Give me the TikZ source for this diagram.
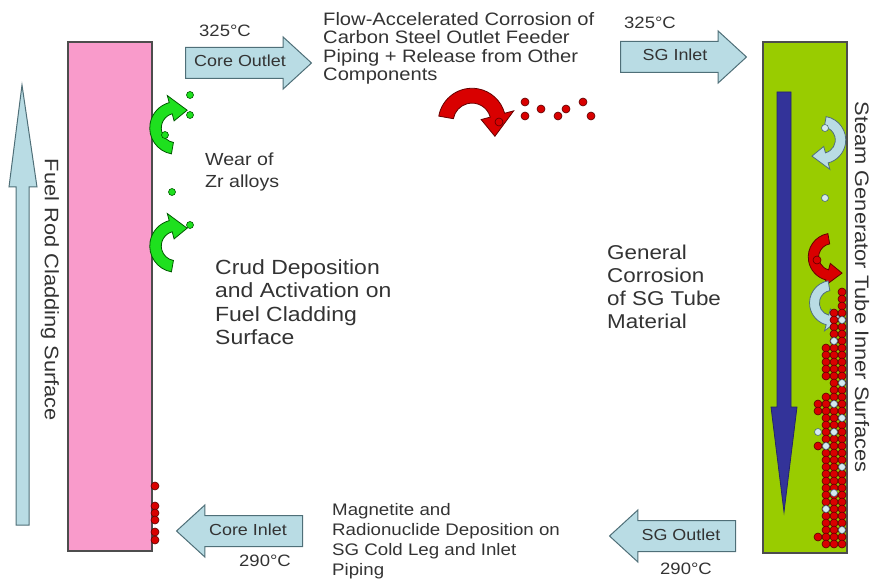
\documentclass[tikz,border=0pt]{standalone}
\usepackage{fontspec}
\setmainfont{Liberation Sans}[FakeStretch=1.12]
\usepackage{xcolor}
\usepackage{tikz}
\usetikzlibrary{shapes.arrows}

\definecolor{txtgray}{HTML}{333333}
\definecolor{edgegray}{HTML}{4D4D4D}
\definecolor{rodpink}{HTML}{F99BCB}
\definecolor{tubegreen}{HTML}{99CC00}
\definecolor{paleblue}{HTML}{B9DCE4}
\definecolor{paleedge}{HTML}{4F6F78}
\definecolor{flowblue}{HTML}{333399}
\definecolor{crudred}{HTML}{D90000}
\definecolor{zrgreen}{HTML}{1EE01E}

\tikzset{
  pics/bendarrow/.style={code={
    \path[pic actions] (100:1.25) arc[start angle=100, end angle=255, radius=1.25]
      -- (255:1.6) -- (302:1.0) -- (255:0.35) -- (255:0.7)
      arc[start angle=255, end angle=100, radius=0.7] -- cycle;
  }}
}

\begin{document}
\begin{tikzpicture}[x=1pt, y=-1pt, text=txtgray,
    blockarrow/.style={single arrow, draw=paleedge, fill=paleblue, line width=1pt,
      single arrow head extend=10.5pt, single arrow tip angle=85,
      minimum height=126pt, text height=11pt, text depth=3pt,
      inner ysep=8pt, inner xsep=4pt, font=\fontsize{16}{16}\selectfont},
    templbl/.style={font=\fontsize{16.5}{16.5}\selectfont},
    notes/.style={anchor=north west, align=left, inner sep=0pt},
    greenarr/.style={fill=zrgreen, draw=green!35!black, line width=0.8pt},
    redarr/.style={fill=crudred, draw=red!40!black, line width=0.8pt},
    bluearr/.style={fill=paleblue, draw=paleedge, line width=0.8pt},
    reddot/.style={fill=crudred, draw=red!35!black, line width=0.6pt},
    greendot/.style={fill=zrgreen, draw=green!35!black, line width=0.6pt},
    palebead/.style={fill=paleblue!60!white, draw=paleedge, line width=0.6pt}]

    \useasboundingbox (0,0) rectangle (876,583);

    % the two surfaces
    \draw[fill=rodpink, draw=edgegray, line width=1.2pt] (68,42) rectangle (152,551);
    \draw[fill=tubegreen, draw=edgegray, line width=1.2pt] (763,42) rectangle (847,553);

    % big flow arrows
    \draw[fill=paleblue, draw=paleedge, line width=1pt]
      (16,525) -- (16,187) -- (9,187) -- (22,85) -- (37,187) -- (29,187) -- (29,525) -- cycle;
    \draw[fill=flowblue, draw=flowblue!70!black, line width=0.8pt]
      (777,92) -- (791,92) -- (791,407) -- (797,407) -- (784,512) -- (771,407) -- (777,407) -- cycle;

    \node[rotate=-90, font=\fontsize{19.5}{19.5}\selectfont] (rodlbl) at (50,290) {Fuel Rod Cladding Surface};
    \node[rotate=-90, font=\fontsize{19.5}{19.5}\selectfont] (tubelbl) at (862,287) {Steam Generator Tube Inner Surfaces};

    % loop arrows
    \node[blockarrow, anchor=tail] (coreout) at (185,63) {Core Outlet};
    \node[blockarrow, anchor=tail] (sgin) at (620,57) {SG Inlet};
    \node[blockarrow, anchor=tail, shape border rotate=180] (corein) at (303,531) {Core Inlet};
    \node[blockarrow, anchor=tail, shape border rotate=180] (sgout) at (736,536) {SG Outlet};

    \node[templbl] (toutlet) at (225,31) {325°C};
    \node[templbl] (tsgin) at (650,23) {325°C};
    \node[templbl] (tinlet) at (265,561) {290°C};
    \node[templbl] (tsgout) at (686,569) {290°C};

    % notes
    \node[notes, font=\fontsize{18}{18.5}\selectfont] (fac) at (323,12)
      {Flow-Accelerated Corrosion of\\Carbon Steel Outlet Feeder\\Piping + Release from Other\\Components};
    \node[notes, font=\fontsize{17.5}{22}\selectfont] (wear) at (205,153) {Wear of\\Zr alloys};
    \node[notes, font=\fontsize{20.5}{23.5}\selectfont] (crud) at (215,259)
      {Crud Deposition\\and Activation on\\Fuel Cladding\\Surface};
    \node[notes, font=\fontsize{20}{23}\selectfont] (gencorr) at (607,245)
      {General\\Corrosion\\of SG Tube\\Material};
    \node[notes, font=\fontsize{16.7}{20}\selectfont] (magnet) at (332,503)
      {Magnetite and\\Radionuclide Deposition on\\SG Cold Leg and Inlet\\Piping};

    % release and deposition
    \pic[greenarr, scale=21] at (176,128) {bendarrow};
    \pic[greenarr, scale=21] at (176,246) {bendarrow};
    \pic[redarr, scale=27, rotate=-90] at (472,122) {bendarrow};
    \pic[bluearr, scale=19, rotate=180] at (822,140) {bendarrow};
    \pic[redarr, scale=19, yscale=-1] at (832,257) {bendarrow};
    \pic[bluearr, scale=18, yscale=-1] at (832,303) {bendarrow};

    \foreach \x/\y in {190/95, 190/115, 165/135, 172/192, 190/225}
      \draw[greendot] (\x,\y) circle[radius=3.5];
    \foreach \x/\y in {525/102, 525/116, 541/109, 558/116, 566/109, 583/102, 591/116, 499/122, 817/260}
      \draw[reddot] (\x,\y) circle[radius=4];
    \foreach \y in {486, 506, 513, 520, 532, 540}
      \draw[reddot] (155,\y) circle[radius=4];

    \foreach \y/\n in {292/1, 299/1, 306/1, 313/2, 320/2, 327/2, 334/2, 341/2, 348/3, 355/3,
                       362/3, 369/3, 376/3, 383/2, 390/2, 397/3, 404/4, 411/4, 418/3, 425/3,
                       432/3, 439/3, 446/4, 453/3, 460/3, 467/3, 474/3, 481/3, 488/3, 495/3,
                       502/3, 509/3, 516/3, 523/3, 530/3, 537/4, 544/3}
      \foreach \c in {1,...,\n}
        \draw[reddot] ({850-8*\c},\y) circle[radius=4];
    \foreach \x/\y in {825/128, 825/198, 842/320, 834/341, 842/383, 834/404, 842/418, 818/432,
                       834/432, 826/446, 842/467, 834/493, 826/509, 842/530}
      \draw[palebead] (\x,\y) circle[radius=3.5];

\end{tikzpicture}
\end{document}
